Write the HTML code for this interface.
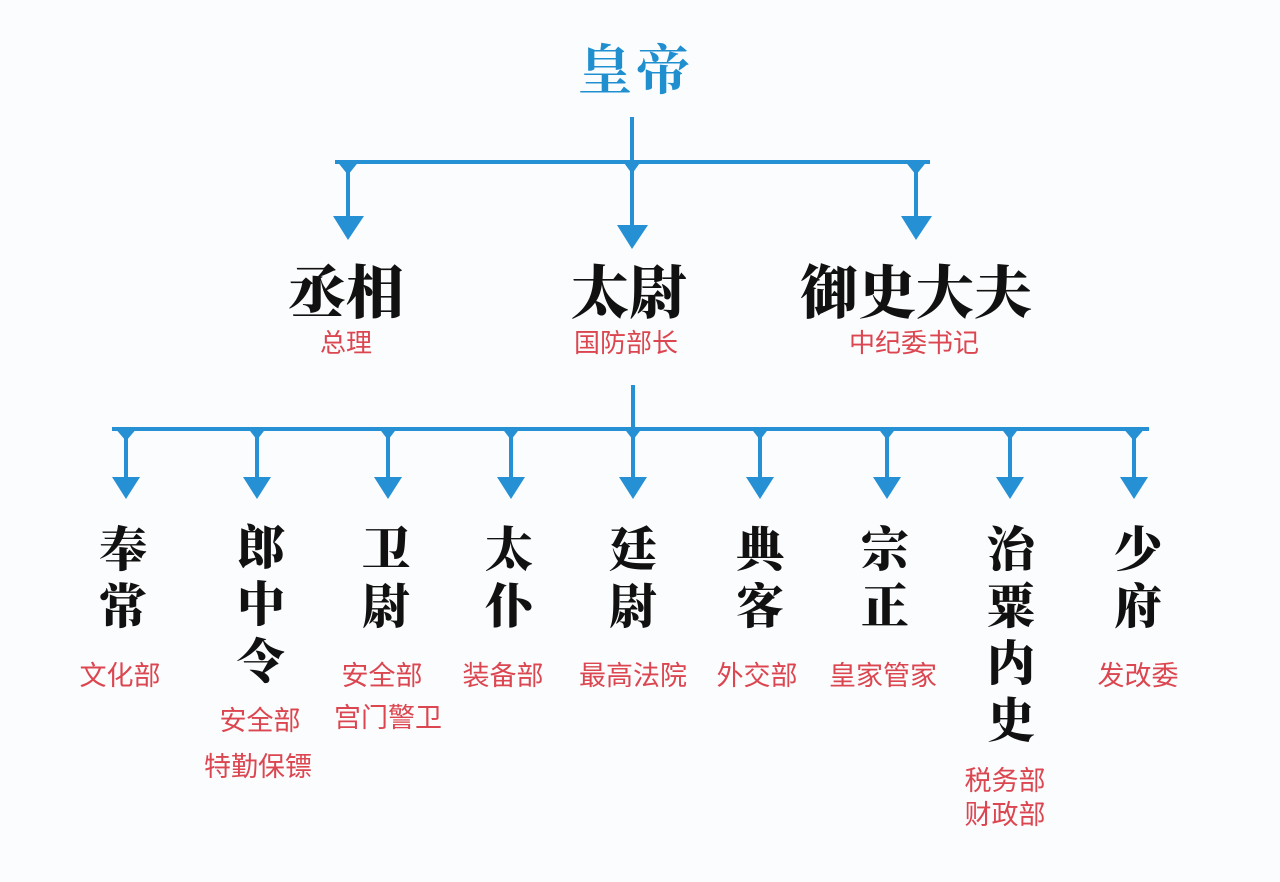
<!DOCTYPE html>
<html lang="zh">
<head>
<meta charset="utf-8">
<style>
  html,body{margin:0;padding:0;}
  body{width:1280px;height:882px;background:#fbfcfd;position:relative;overflow:hidden;}
  .t{position:absolute;text-align:center;white-space:nowrap;}
  .emp{font-family:"Liberation Serif","Noto Serif CJK SC",serif;font-weight:700;color:#1f8fd0;font-size:54px;line-height:56px;letter-spacing:4px;}
  .l1{font-family:"Liberation Serif","Noto Serif CJK SC",serif;font-weight:900;color:#111;font-size:58px;line-height:60px;}
  .l2{font-family:"Liberation Serif","Noto Serif CJK SC",serif;font-weight:900;color:#111;font-size:48px;line-height:57px;width:80px;}
  .r{font-family:"Liberation Sans","Noto Sans CJK SC",sans-serif;color:#db4650;font-size:26px;line-height:30px;}
  .r2{font-family:"Liberation Sans","Noto Sans CJK SC",sans-serif;color:#db4650;font-size:27px;line-height:30px;}
</style>
</head>
<body>
<svg width="1280" height="882" style="position:absolute;left:0;top:0" xmlns="http://www.w3.org/2000/svg">
  <g stroke="#2690d4" stroke-width="4" fill="none" stroke-linecap="butt">
    <!-- top -->
    <line x1="632" y1="117" x2="632" y2="162"/>
    <line x1="335" y1="162" x2="930" y2="162"/>
    <line x1="348" y1="162" x2="348" y2="218"/>
    <line x1="632" y1="162" x2="632" y2="226"/>
    <line x1="916" y1="162" x2="916" y2="218"/>
    <!-- middle -->
    <line x1="633" y1="385" x2="633" y2="429"/>
    <line x1="112" y1="429" x2="1149" y2="429"/>
    <line x1="126" y1="429" x2="126" y2="479"/>
    <line x1="257" y1="429" x2="257" y2="479"/>
    <line x1="388" y1="429" x2="388" y2="479"/>
    <line x1="511" y1="429" x2="511" y2="479"/>
    <line x1="633" y1="429" x2="633" y2="479"/>
    <line x1="760" y1="429" x2="760" y2="479"/>
    <line x1="887" y1="429" x2="887" y2="479"/>
    <line x1="1010" y1="429" x2="1010" y2="479"/>
    <line x1="1134" y1="429" x2="1134" y2="479"/>
  </g>
  <g fill="#2690d4">
    <!-- flares top -->
    <polygon points="336,160 360,160 348,175"/>
    <polygon points="622,160 642,160 632,174"/>
    <polygon points="904,160 928,160 916,175"/>
    <!-- arrowheads top -->
    <polygon points="333,216 364,216 348,240"/>
    <polygon points="617,225 648,225 632,249"/>
    <polygon points="901,216 932,216 916,240"/>
    <!-- flares middle -->
    <polygon points="114,427 138,427 126,441"/>
    <polygon points="247,427 267,427 257,440"/>
    <polygon points="378,427 398,427 388,440"/>
    <polygon points="501,427 521,427 511,440"/>
    <polygon points="623,427 643,427 633,440"/>
    <polygon points="750,427 770,427 760,440"/>
    <polygon points="877,427 897,427 887,440"/>
    <polygon points="1000,427 1020,427 1010,440"/>
    <polygon points="1122,427 1146,427 1134,441"/>
    <!-- arrowheads middle -->
    <polygon points="112,477 140,477 126,499"/>
    <polygon points="243,477 271,477 257,499"/>
    <polygon points="374,477 402,477 388,499"/>
    <polygon points="497,477 525,477 511,499"/>
    <polygon points="619,477 647,477 633,499"/>
    <polygon points="746,477 774,477 760,499"/>
    <polygon points="873,477 901,477 887,499"/>
    <polygon points="996,477 1024,477 1010,499"/>
    <polygon points="1120,477 1148,477 1134,499"/>
  </g>
</svg>

<!-- Emperor -->
<div class="t emp" style="left:536px;top:43px;width:200px;">皇帝</div>

<!-- Level 1 -->
<div class="t l1" style="left:246px;top:264px;width:200px;">丞相</div>
<div class="t l1" style="left:529px;top:264px;width:200px;">太尉</div>
<div class="t l1" style="left:766px;top:264px;width:300px;">御史大夫</div>

<div class="t r" style="left:266px;top:328px;width:160px;">总理</div>
<div class="t r" style="left:546px;top:328px;width:160px;">国防部长</div>
<div class="t r" style="left:834px;top:328px;width:160px;">中纪委书记</div>

<!-- Level 2 titles -->
<div class="t l2" style="left:83px;top:522px;">奉<br>常</div>
<div class="t l2" style="left:221px;top:520px;">郎<br>中<br>令</div>
<div class="t l2" style="left:346px;top:522px;">卫<br>尉</div>
<div class="t l2" style="left:469px;top:522px;">太<br>仆</div>
<div class="t l2" style="left:593px;top:522px;">廷<br>尉</div>
<div class="t l2" style="left:720px;top:522px;">典<br>客</div>
<div class="t l2" style="left:845px;top:522px;">宗<br>正</div>
<div class="t l2" style="left:971px;top:522px;">治<br>粟<br>内<br>史</div>
<div class="t l2" style="left:1098px;top:522px;">少<br>府</div>

<!-- Level 2 labels -->
<div class="t r2" style="left:40px;top:661px;width:160px;">文化部</div>
<div class="t r2" style="left:180px;top:706px;width:160px;">安全部</div>
<div class="t r2" style="left:178px;top:752px;width:160px;">特勤保镖</div>
<div class="t r2" style="left:302px;top:661px;width:160px;">安全部</div>
<div class="t r2" style="left:308px;top:703px;width:160px;">宫门警卫</div>
<div class="t r2" style="left:423px;top:661px;width:160px;">装备部</div>
<div class="t r2" style="left:553px;top:661px;width:160px;">最高法院</div>
<div class="t r2" style="left:677px;top:661px;width:160px;">外交部</div>
<div class="t r2" style="left:803px;top:661px;width:160px;">皇家管家</div>
<div class="t r2" style="left:925px;top:766px;width:160px;">税务部</div>
<div class="t r2" style="left:925px;top:800px;width:160px;">财政部</div>
<div class="t r2" style="left:1058px;top:661px;width:160px;">发改委</div>
</body>
</html>
